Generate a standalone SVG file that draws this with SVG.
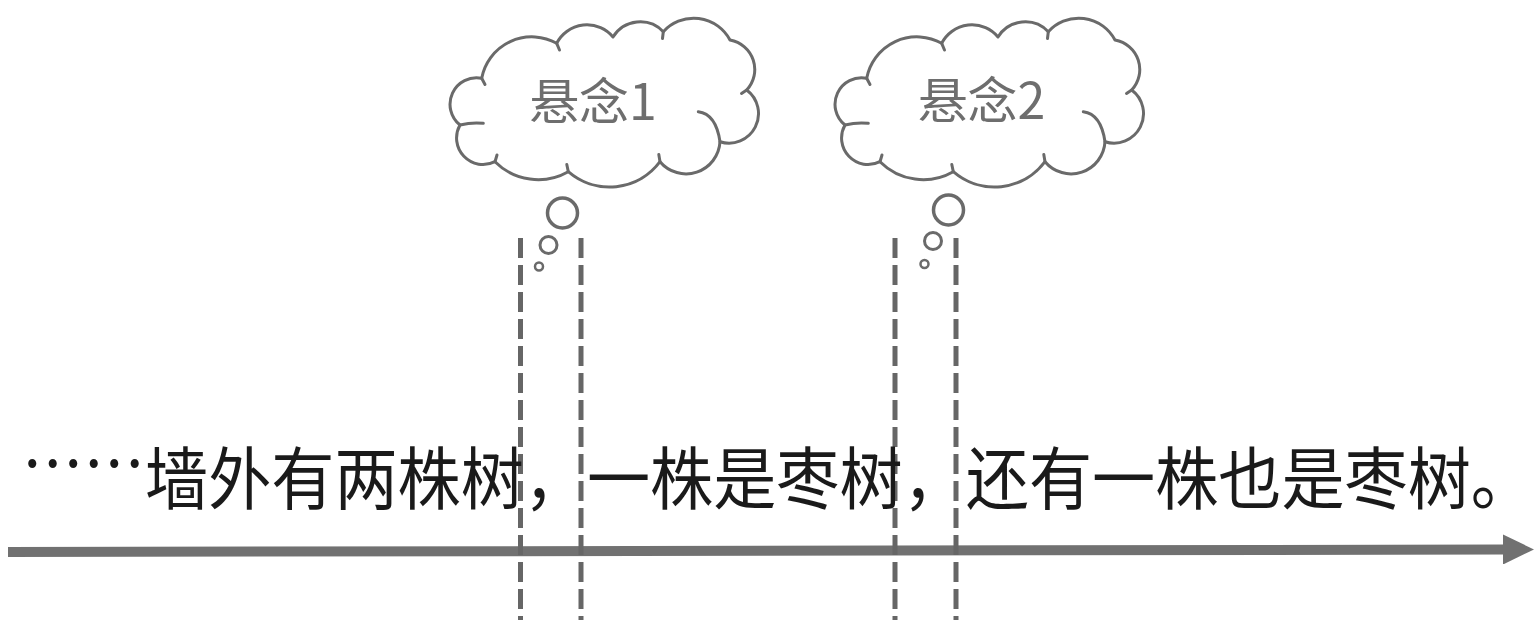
<svg xmlns="http://www.w3.org/2000/svg" width="1536" height="641" viewBox="0 0 1536 641">
<style>
.cloud{fill:#fff;stroke:#6a6a6a;stroke-width:3;stroke-linejoin:round}
.ia{fill:none;stroke:#6a6a6a;stroke-width:3;stroke-linecap:round}
.bub{fill:#fff;stroke:#6a6a6a}
.ct{font-family:"Noto Sans CJK SC","Noto Sans",sans-serif;font-size:50px;fill:#6e6e6e;text-anchor:middle}
.guide{stroke:#666;stroke-width:5;stroke-dasharray:20 7;fill:none}
.axis{stroke:#717171;stroke-width:10;fill:none}
.main{font-family:"Noto Sans CJK SC","Noto Sans",sans-serif;font-size:68px;fill:#1a1a1a}
</style>
<defs>
<g id="cloudShape">
<path class="cloud" d="M481.7,78.3
 A51,51 0 0 1 556.7,43.3
 A34,34 0 0 1 613,37
 A32,32 0 0 1 663.3,31.7
 A41,41 0 0 1 730,40
 A30,30 0 0 1 746.7,90
 A29.5,29.5 0 0 1 720,141.7
 A34,34 0 0 1 660,161.7
 A63,63 0 0 1 568.3,171.7
 A61,61 0 0 1 495,161.7
 A26.5,26.5 0 0 1 460,125
 A26.5,26.5 0 0 1 481.7,78.3 Z"/>
<path class="ia" d="M556.7,43.3 L559.5,50"/>
<path class="ia" d="M663.3,31.7 L662.5,38.5"/>
<path class="ia" d="M746.7,90 L741.5,93.5"/>
<path class="ia" d="M698.3,111.7 Q716,114 720,141.7"/>
<path class="ia" d="M660,161.7 L658.8,154.5"/>
<path class="ia" d="M568.3,171.7 L566.8,164.5"/>
<path class="ia" d="M495,161.7 L497,155"/>
<path class="ia" d="M460,125 Q472,122 483.3,123.3"/>
<path class="ia" d="M481.7,78.3 L485,84.5"/>
</g>
<marker id="arrowHead" markerUnits="userSpaceOnUse" viewBox="0 0 31 30" markerWidth="31" markerHeight="30" refX="1" refY="15" orient="auto">
<path d="M0,0 L31,15 L0,30 Z" fill="#717171"/>
</marker>
</defs>

<g id="connectors">
<line class="axis" x1="8" y1="552" x2="1504" y2="549.5" marker-end="url(#arrowHead)"/>
<line class="guide" x1="520.5" y1="238" x2="520.5" y2="620"/>
<line class="guide" x1="581" y1="238" x2="581" y2="620"/>
<line class="guide" x1="895" y1="238" x2="895" y2="620"/>
<line class="guide" x1="956" y1="238" x2="956" y2="620"/>
</g>

<g id="suspense1">
<use href="#cloudShape"/>
<circle class="bub" cx="562.5" cy="213" r="15" stroke-width="3.5"/>
<circle class="bub" cx="548.5" cy="245" r="8.5" stroke-width="3"/>
<circle class="bub" cx="539" cy="266.5" r="4" stroke-width="2.5"/>
<text class="ct" x="593" y="120">悬念1</text>
</g>

<g id="suspense2">
<use href="#cloudShape" transform="translate(385,0)"/>
<circle class="bub" cx="948.5" cy="210" r="15" stroke-width="3.5"/>
<circle class="bub" cx="933" cy="241" r="8.5" stroke-width="3"/>
<circle class="bub" cx="924.5" cy="264" r="4" stroke-width="2.5"/>
<text class="ct" x="981.5" y="119">悬念2</text>
</g>

<g id="sentence">
<text class="main" x="22" y="490" textLength="123" lengthAdjust="spacingAndGlyphs">……</text>
<text class="main" x="145" y="504" textLength="1389" lengthAdjust="spacingAndGlyphs">墙外有两株树，一株是枣树，还有一株也是枣树。</text>
</g>
</svg>
